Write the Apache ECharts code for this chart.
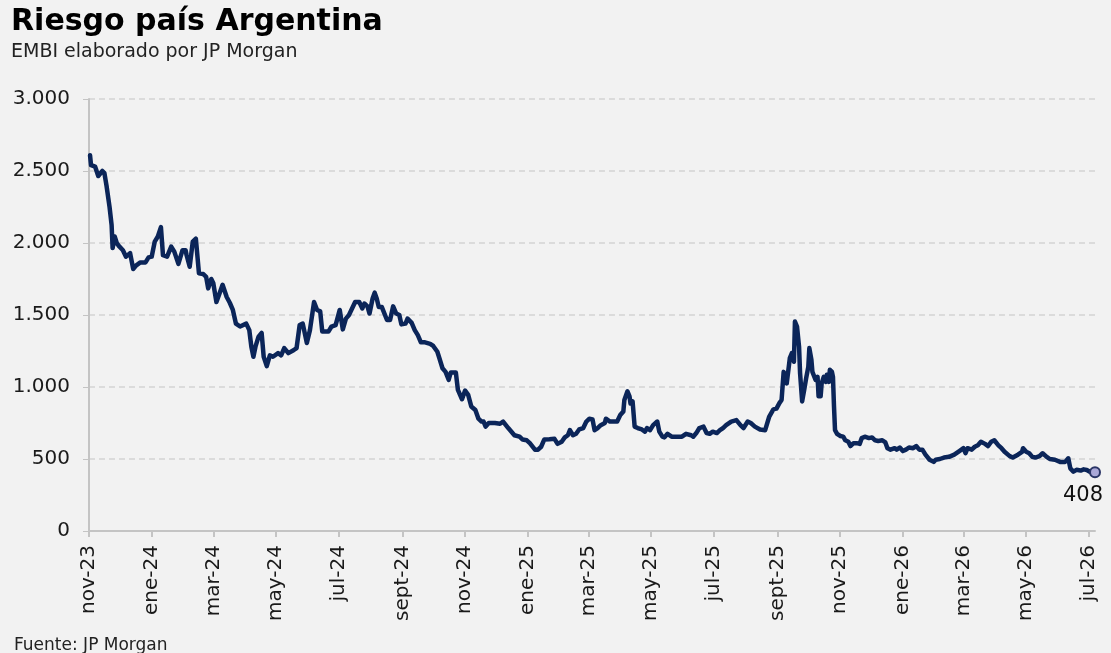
<!DOCTYPE html>
<html>
<head>
<meta charset="utf-8">
<title>Riesgo país Argentina</title>
<script src="https://cdn.jsdelivr.net/npm/echarts@6/dist/echarts.min.js"></script>
<style>
  html, body { margin: 0; padding: 0; background: #f2f2f2; }
  #chart { width: 1111px; height: 653px; }
</style>
</head>
<body>
<div id="chart"></div>
<script>
// Riesgo país (EMBI, puntos básicos): [fecha, valor]
const riesgo2023 = [
  ['2023-11-02', 2610], ['2023-11-03', 2540], ['2023-11-07', 2530], ['2023-11-10', 2465],
  ['2023-11-14', 2500], ['2023-11-16', 2485], ['2023-11-18', 2400], ['2023-11-21', 2250],
  ['2023-11-23', 2125], ['2023-11-24', 1965], ['2023-11-26', 2045], ['2023-11-28', 2000],
  ['2023-11-30', 1980], ['2023-12-04', 1950], ['2023-12-07', 1905], ['2023-12-11', 1930],
  ['2023-12-14', 1820], ['2023-12-17', 1845], ['2023-12-21', 1865], ['2023-12-26', 1865],
  ['2023-12-29', 1900]
]
const riesgo2024 = [
  ['2024-01-01', 1905], ['2024-01-04', 2010], ['2024-01-07', 2045], ['2024-01-10', 2110],
  ['2024-01-12', 1915], ['2024-01-16', 1905], ['2024-01-20', 1975], ['2024-01-23', 1940],
  ['2024-01-27', 1855], ['2024-01-31', 1950], ['2024-02-03', 1950], ['2024-02-04', 1915],
  ['2024-02-07', 1835], ['2024-02-10', 2010], ['2024-02-13', 2030], ['2024-02-16', 1790],
  ['2024-02-20', 1785], ['2024-02-23', 1765], ['2024-02-25', 1685], ['2024-02-28', 1750],
  ['2024-03-01', 1720], ['2024-03-04', 1590], ['2024-03-07', 1650], ['2024-03-10', 1710],
  ['2024-03-14', 1625], ['2024-03-17', 1585], ['2024-03-20', 1535], ['2024-03-23', 1440],
  ['2024-03-27', 1420], ['2024-04-02', 1440], ['2024-04-05', 1395], ['2024-04-07', 1280],
  ['2024-04-09', 1210], ['2024-04-11', 1280], ['2024-04-14', 1350], ['2024-04-17', 1375],
  ['2024-04-19', 1210], ['2024-04-22', 1145], ['2024-04-25', 1220], ['2024-04-28', 1210],
  ['2024-05-03', 1235], ['2024-05-06', 1220], ['2024-05-09', 1270], ['2024-05-13', 1235],
  ['2024-05-18', 1255], ['2024-05-21', 1270], ['2024-05-24', 1430], ['2024-05-27', 1440],
  ['2024-05-31', 1305], ['2024-06-03', 1395], ['2024-06-07', 1590], ['2024-06-10', 1535],
  ['2024-06-13', 1525], ['2024-06-15', 1385], ['2024-06-21', 1385], ['2024-06-24', 1420],
  ['2024-06-28', 1430], ['2024-07-02', 1535], ['2024-07-05', 1400], ['2024-07-08', 1475],
  ['2024-07-11', 1500], ['2024-07-17', 1590], ['2024-07-21', 1590], ['2024-07-24', 1545],
  ['2024-07-26', 1580], ['2024-07-29', 1560], ['2024-07-31', 1510], ['2024-08-03', 1615],
  ['2024-08-05', 1655], ['2024-08-07', 1615], ['2024-08-09', 1555], ['2024-08-12', 1555],
  ['2024-08-17', 1465], ['2024-08-20', 1465], ['2024-08-23', 1560], ['2024-08-26', 1510],
  ['2024-08-29', 1500], ['2024-08-31', 1435], ['2024-09-04', 1440], ['2024-09-06', 1475],
  ['2024-09-10', 1445], ['2024-09-13', 1395], ['2024-09-16', 1360], ['2024-09-19', 1310],
  ['2024-09-23', 1310], ['2024-09-28', 1300], ['2024-10-01', 1285], ['2024-10-05', 1245],
  ['2024-10-07', 1200], ['2024-10-10', 1130], ['2024-10-13', 1105], ['2024-10-16', 1050],
  ['2024-10-18', 1100], ['2024-10-23', 1100], ['2024-10-25', 980], ['2024-10-29', 915],
  ['2024-11-01', 975], ['2024-11-04', 945], ['2024-11-07', 865], ['2024-11-11', 840],
  ['2024-11-14', 780], ['2024-11-17', 760], ['2024-11-19', 760], ['2024-11-21', 725],
  ['2024-11-24', 750], ['2024-11-30', 750], ['2024-12-05', 745], ['2024-12-08', 760],
  ['2024-12-13', 715], ['2024-12-19', 665], ['2024-12-24', 655], ['2024-12-27', 635],
  ['2024-12-31', 630]
]
const riesgo2025 = [
  ['2025-01-03', 610], ['2025-01-08', 565], ['2025-01-11', 565], ['2025-01-14', 585],
  ['2025-01-17', 635], ['2025-01-22', 637], ['2025-01-27', 640], ['2025-01-30', 605],
  ['2025-02-03', 620], ['2025-02-06', 650], ['2025-02-09', 665], ['2025-02-11', 700],
  ['2025-02-14', 665], ['2025-02-17', 675], ['2025-02-20', 705], ['2025-02-24', 715],
  ['2025-02-27', 760], ['2025-03-02', 780], ['2025-03-05', 775], ['2025-03-07', 700],
  ['2025-03-10', 715], ['2025-03-13', 735], ['2025-03-17', 750], ['2025-03-18', 780],
  ['2025-03-22', 760], ['2025-03-29', 760], ['2025-04-01', 805], ['2025-04-04', 830],
  ['2025-04-05', 910], ['2025-04-08', 970], ['2025-04-10', 935], ['2025-04-11', 885],
  ['2025-04-13', 900], ['2025-04-15', 725], ['2025-04-18', 715], ['2025-04-22', 705],
  ['2025-04-25', 690], ['2025-04-27', 715], ['2025-04-30', 700], ['2025-05-03', 735],
  ['2025-05-07', 760], ['2025-05-09', 690], ['2025-05-12', 655], ['2025-05-14', 650],
  ['2025-05-17', 675], ['2025-05-21', 655], ['2025-05-26', 655], ['2025-05-31', 655],
  ['2025-06-04', 675], ['2025-06-09', 665], ['2025-06-11', 655], ['2025-06-14', 680],
  ['2025-06-17', 715], ['2025-06-21', 725], ['2025-06-24', 680], ['2025-06-27', 675],
  ['2025-06-30', 690], ['2025-07-04', 680], ['2025-07-07', 700], ['2025-07-10', 715],
  ['2025-07-13', 735], ['2025-07-18', 760], ['2025-07-23', 770], ['2025-07-27', 735],
  ['2025-07-30', 715], ['2025-08-03', 760], ['2025-08-06', 750], ['2025-08-10', 725],
  ['2025-08-15', 705], ['2025-08-20', 700], ['2025-08-24', 795], ['2025-08-28', 845],
  ['2025-08-31', 850], ['2025-09-03', 890], ['2025-09-05', 910], ['2025-09-07', 1105],
  ['2025-09-09', 1050], ['2025-09-10', 1025], ['2025-09-12', 1140], ['2025-09-13', 1200],
  ['2025-09-15', 1235], ['2025-09-17', 1175], ['2025-09-18', 1455], ['2025-09-20', 1420],
  ['2025-09-22', 1280], ['2025-09-23', 1095], ['2025-09-25', 900], ['2025-09-27', 980],
  ['2025-09-29', 1065], ['2025-10-01', 1140], ['2025-10-02', 1270], ['2025-10-04', 1190],
  ['2025-10-05', 1105], ['2025-10-08', 1050], ['2025-10-10', 1070], ['2025-10-11', 935],
  ['2025-10-13', 935], ['2025-10-14', 1025], ['2025-10-16', 1070], ['2025-10-18', 1035],
  ['2025-10-19', 1085], ['2025-10-21', 1035], ['2025-10-22', 1120], ['2025-10-24', 1105],
  ['2025-10-25', 1070], ['2025-10-26', 865], ['2025-10-27', 700], ['2025-10-29', 675],
  ['2025-11-01', 660], ['2025-11-04', 655], ['2025-11-06', 630], ['2025-11-09', 620],
  ['2025-11-11', 590], ['2025-11-14', 610], ['2025-11-17', 610], ['2025-11-20', 605],
  ['2025-11-22', 645], ['2025-11-25', 655], ['2025-11-29', 645], ['2025-12-02', 650],
  ['2025-12-05', 630], ['2025-12-08', 625], ['2025-12-12', 630], ['2025-12-15', 615],
  ['2025-12-17', 575], ['2025-12-20', 565], ['2025-12-24', 575], ['2025-12-26', 565],
  ['2025-12-29', 580]
]
const riesgo2026 = [
  ['2026-01-01', 555], ['2026-01-04', 565], ['2026-01-07', 580], ['2026-01-11', 575],
  ['2026-01-14', 590], ['2026-01-17', 565], ['2026-01-20', 565], ['2026-01-23', 530],
  ['2026-01-27', 495], ['2026-01-31', 480], ['2026-02-02', 495], ['2026-02-06', 500],
  ['2026-02-10', 510], ['2026-02-15', 515], ['2026-02-20', 530], ['2026-02-25', 555],
  ['2026-03-01', 575], ['2026-03-03', 540], ['2026-03-05', 575], ['2026-03-09', 565],
  ['2026-03-12', 585], ['2026-03-15', 595], ['2026-03-18', 620], ['2026-03-22', 605],
  ['2026-03-25', 590], ['2026-03-28', 620], ['2026-03-31', 630], ['2026-04-04', 595],
  ['2026-04-07', 575], ['2026-04-10', 550], ['2026-04-15', 520], ['2026-04-18', 510],
  ['2026-04-23', 530], ['2026-04-27', 550], ['2026-04-28', 575], ['2026-05-01', 550],
  ['2026-05-04', 540], ['2026-05-07', 515], ['2026-05-10', 510], ['2026-05-14', 520],
  ['2026-05-17', 540], ['2026-05-21', 515], ['2026-05-24', 500], ['2026-05-29', 495],
  ['2026-06-03', 480], ['2026-06-08', 480], ['2026-06-11', 505], ['2026-06-13', 435],
  ['2026-06-16', 412], ['2026-06-19', 425], ['2026-06-23', 420], ['2026-06-26', 428],
  ['2026-06-29', 424], ['2026-07-02', 412], ['2026-07-07', 408]
]

// marcas del eje X (cada dos meses) y del eje Y
const marcasMes = ['2023-11-01', '2024-01-01', '2024-03-01', '2024-05-01', '2024-07-01', '2024-09-01',
  '2024-11-01', '2025-01-01', '2025-03-01', '2025-05-01', '2025-07-01', '2025-09-01',
  '2025-11-01', '2026-01-01', '2026-03-01', '2026-05-01', '2026-07-01']
const mesesEs = ['ene', 'feb', 'mar', 'abr', 'may', 'jun', 'jul', 'ago', 'sept', 'oct', 'nov', 'dic']
const ejeY = { min: 0, max: 3000, paso: 500 }

const fuente = 'DejaVu Sans'

function aFecha(s) {
  const p = s.split('-')
  return new Date(+p[0], +p[1] - 1, +p[2]).getTime()
}

const serie = [].concat(riesgo2023, riesgo2024, riesgo2025, riesgo2026)
  .map(function(d) { return [aFecha(d[0]), d[1]] })
const ultimo = serie[serie.length - 1]
const ticks = marcasMes.map(aFecha)

const chart = echarts.init(document.getElementById('chart'))
chart.setOption({
  backgroundColor: '#f2f2f2',
  textStyle: { fontFamily: fuente },
  title: [
    {
      text: 'Riesgo país Argentina',
      left: 6,
      top: 2,
      textStyle: { fontFamily: fuente, fontSize: 30, fontWeight: 'bold', color: '#000' }
    },
    {
      text: 'EMBI elaborado por JP Morgan',
      left: 6,
      top: 38,
      textStyle: { fontFamily: fuente, fontSize: 19, fontWeight: 'normal', color: '#222' }
    }
  ],
  graphic: [
    {
      type: 'text',
      left: 14,
      top: 637,
      style: { text: 'Fuente: JP Morgan', fontFamily: fuente, fontSize: 17, fill: '#222' }
    }
  ],
  grid: { left: 89, right: 16, top: 99, bottom: 122 },
  xAxis: {
    type: 'value',
    min: aFecha('2023-11-01'),
    max: ultimo[0],
    splitLine: { show: false },
    axisLine: { lineStyle: { color: '#c4c4c4', width: 2 } },
    axisTick: { show: true, length: 6, customValues: ticks, lineStyle: { color: '#c4c4c4', width: 2 } },
    axisLabel: {
      customValues: ticks,
      rotate: 90,
      margin: 14,
      fontSize: 20,
      color: '#1a1a1a',
      fontFamily: fuente,
      formatter: function(v) {
        const d = new Date(v)
        return mesesEs[d.getMonth()] + '-' + String(d.getFullYear()).slice(2)
      }
    }
  },
  yAxis: {
    type: 'value',
    min: ejeY.min,
    max: ejeY.max,
    interval: ejeY.paso,
    axisLine: { show: true, lineStyle: { color: '#c4c4c4', width: 2 } },
    axisTick: { show: true, length: 6, lineStyle: { color: '#c4c4c4' } },
    splitLine: { lineStyle: { color: '#d4d4d4', type: [6, 4], width: 1.5 } },
    axisLabel: {
      margin: 19,
      fontSize: 20,
      color: '#1a1a1a',
      fontFamily: fuente,
      formatter: function(v) {
        return String(v).replace(/\B(?=(\d{3})+(?!\d))/g, '.')
      }
    }
  },
  series: [
    {
      name: 'Riesgo país',
      type: 'line',
      data: serie,
      showSymbol: false,
      symbol: 'none',
      lineStyle: { color: '#0b2559', width: 4.5, join: 'round', cap: 'round' },
      z: 3
    },
    {
      name: 'Último',
      type: 'scatter',
      data: [ultimo],
      symbol: 'circle',
      symbolSize: 10,
      itemStyle: { color: '#aaa8d8', borderColor: '#2a3566', borderWidth: 2, opacity: 1 },
      label: {
        show: true,
        position: 'bottom',
        offset: [-12, 2],
        fontSize: 21,
        color: '#111',
        opacity: 1,
        fontFamily: fuente,
        formatter: function(p) { return p.value[1] }
      },
      emphasis: { disabled: true },
      z: 4
    }
  ],
  animation: false
})
</script>
</body>
</html>
